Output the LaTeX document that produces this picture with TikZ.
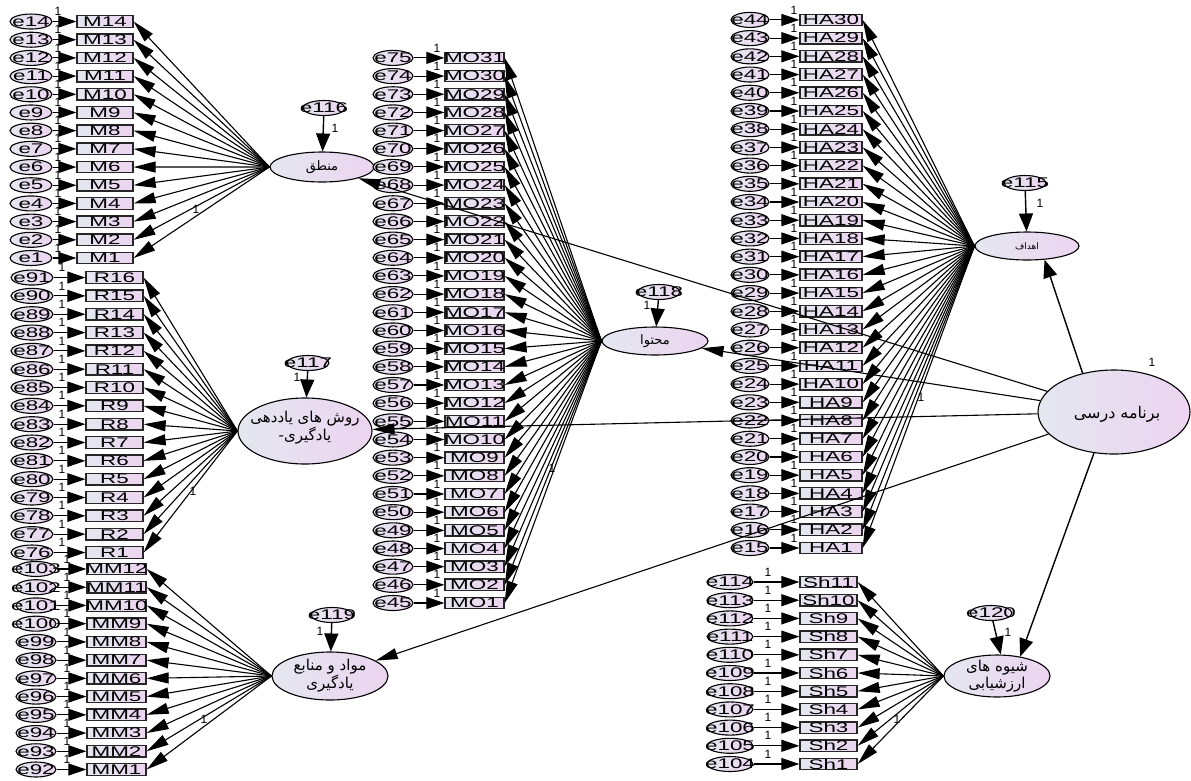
\documentclass[tikz,border=0pt]{standalone}
\usepackage{fontspec}
\setmainfont{Liberation Sans}
\newfontfamily\boxfont[FakeStretch=1.6]{Liberation Sans}
\newfontfamily\fa[Script=Arabic]{DejaVu Sans}
\TeXXeTstate=1
\usetikzlibrary{arrows.meta,shapes.geometric}
\definecolor{cL}{RGB}{228,231,240}
\definecolor{cR}{RGB}{236,212,240}
\begin{document}
\begin{tikzpicture}[x=1pt,y=-1pt,
  ind/.style={rectangle,draw=black!85,line width=1.3pt,inner ysep=0pt,inner xsep=-4pt,minimum height=11.5pt,left color=cL,right color=cR,font=\boxfont\fontsize{14}{14}\selectfont},
  err/.style={ellipse,draw,line width=1.1pt,inner ysep=-1pt,inner xsep=-14pt,minimum width=42pt,minimum height=15pt,left color=cL,right color=cR,font=\boxfont\fontsize{14}{14}\selectfont},
  lat/.style={ellipse,draw,line width=1.1pt,inner sep=0pt,left color=cL,right color=cR},
  lt/.style={font=\fa\fontsize{14}{16}\selectfont,align=center,inner sep=0pt},
  arr/.style={-{Triangle[length=22pt,width=11pt]},line width=1.1pt},
  earr/.style={-{Triangle[length=18pt,width=12pt]},line width=1.1pt},
  larr/.style={-{Triangle[length=18pt,width=14pt]},line width=1.4pt},
  one/.style={font=\fontsize{12}{12}\selectfont,inner sep=0pt}]
\useasboundingbox (0,0) rectangle (1191,780);

% ---------- latent variables ----------
\node[lat,minimum width=104pt,minimum height=30pt] (mt) at (322,167) {};
\node[lt,font=\fa\fontsize{13}{15}\selectfont] (mtT) at (mt) {\beginR منطق\endR};
\node[lat,minimum width=134pt,minimum height=66pt] (rs) at (305,431) {};
\node[lt,font=\fa\fontsize{15}{18}\selectfont] (rsT) at (305,428) {\beginR روش های یاددهی\endR\\\beginR یادگیری-\endR};
\node[lat,minimum width=116pt,minimum height=48pt] (mv) at (330,676) {};
\node[lt,font=\fa\fontsize{15}{17}\selectfont] (mvT) at (330,676) {\beginR مواد و منابع\endR\\\beginR یادگیری\endR};
\node[lat,minimum width=106pt,minimum height=28pt] (mh) at (655,341) {};
\node[lt,font=\fa\fontsize{13}{15}\selectfont] (mhT) at (mh) {\beginR محتوا\endR};
\node[lat,minimum width=104pt,minimum height=28pt] (hd) at (1027,246) {};
\node[lt,font=\fa\fontsize{9}{11}\selectfont] (hdT) at (hd) {\beginR اهداف\endR};
\node[lat,minimum width=106pt,minimum height=42pt] (sh) at (997,676) {};
\node[lt,font=\fa\fontsize{15}{17}\selectfont] (shT) at (997,676) {\beginR شیوه های\endR\\\beginR ارزشیابی\endR};
\node[lat,minimum width=152pt,minimum height=84pt] (bd) at (1114,412) {};
\node[lt,font=\fa\fontsize{16}{18}\selectfont] (bdT) at (1117,414) {\beginR برنامه درسی\endR};
\node[one] (obd) at (1152,362) {1};

% ---------- latent errors ----------
\node[err] (e116) at (324,108) {e116};
\node[one] (o116) at (335,128) {1};
\node[err] (e117) at (308,363) {e117};
\node[one] (o117) at (297,377) {1};
\node[err] (e118) at (659,292) {e118};
\node[one] (o118) at (647,305) {1};
\node[err] (e115) at (1025,183) {e115};
\node[one] (o115) at (1040,203) {1};
\node[err] (e119) at (332,615) {e119};
\node[one] (o119) at (320,631) {1};
\node[err] (e120) at (991,613) {e120};
\node[one] (o120) at (1008,632) {1};

% ---------- M group ----------
\foreach \i in {1,...,14}{
  \pgfmathsetmacro\yy{258-(\i-1)*18.19}
  \node[ind,minimum width=56pt] (M\i) at (105,\yy) {M\i};
  \node[err] (e\i) at (31,\yy) {e\i};
  \node[one] (o\i) at (58,\yy-10) {1};
  \draw[earr] (e\i) -- (M\i.west);
  \draw[arr] (mt.west) -- (M\i.east);
}
\node[one] (lM) at (196,209) {1};

% ---------- R group ----------
\foreach \i in {1,...,16}{
  \pgfmathsetmacro\yy{552.5-(\i-1)*18.33}
  \pgfmathtruncatemacro\ee{75+\i}
  \node[ind,minimum width=57pt] (R\i) at (114.5,\yy) {R\i};
  \node[err] (e\ee) at (32,\yy) {e\ee};
  \node[one] (o\ee) at (62,\yy-10) {1};
  \draw[earr] (e\ee) -- (R\i.west);
  \draw[arr] (rs.west) -- (R\i.east);
}
\node[one] (lR) at (193,491) {1};

% ---------- MM group ----------
\foreach \i in {1,...,12}{
  \pgfmathsetmacro\yy{769.5-(\i-1)*18.23}
  \pgfmathtruncatemacro\ee{91+\i}
  \node[ind,minimum width=59pt] (MM\i) at (116.5,\yy) {MM\i};
  \node[err,minimum width=40pt] (e\ee) at (36,\yy) {e\ee};
  \node[one] (o\ee) at (67,\yy-10) {1};
  \draw[earr] (e\ee) -- (MM\i.west);
  \draw[arr] (mv.west) -- (MM\i.east);
}
\node[one] (lMM) at (204,719) {1};

% ---------- MO group ----------
\foreach \i in {1,...,31}{
  \pgfmathsetmacro\yy{603-(\i-1)*18.17}
  \pgfmathtruncatemacro\ee{44+\i}
  \node[ind,minimum width=59pt] (MO\i) at (474.5,\yy) {MO\i};
  \node[err,minimum width=40pt] (e\ee) at (393,\yy) {e\ee};
  \node[one] (o\ee) at (437,\yy-10) {1};
  \draw[earr] (e\ee) -- (MO\i.west);
  \draw[arr] (mh.west) -- (MO\i.east);
}
\node[one] (lMO) at (552,468) {1};

% ---------- HA group ----------
\foreach \i in {1,...,30}{
  \pgfmathsetmacro\yy{548-(\i-1)*18.21}
  \pgfmathtruncatemacro\ee{14+\i}
  \node[ind,minimum width=62pt] (HA\i) at (831,\yy) {HA\i};
  \node[err,minimum width=38pt] (e\ee) at (750,\yy) {e\ee};
  \node[one] (o\ee) at (794,\yy-10) {1};
  \draw[earr] (e\ee) -- (HA\i.west);
  \draw[arr] (hd.west) -- (HA\i.east);
}
\node[one] (lHA) at (921,397) {1};

% ---------- Sh group ----------
\foreach \i in {1,...,11}{
  \pgfmathsetmacro\yy{764-(\i-1)*18.2}
  \pgfmathtruncatemacro\ee{103+\i}
  \node[ind,minimum width=57pt] (Sh\i) at (828.5,\yy) {Sh\i};
  \node[err,minimum width=46pt] (e\ee) at (730,\yy) {e\ee};
  \node[one] (o\ee) at (768,\yy-10) {1};
  \draw[earr] (e\ee) -- (Sh\i.west);
  \draw[arr] (sh.west) -- (Sh\i.east);
}
\node[one] (lSh) at (897,719) {1};

% ---------- latent error arrows ----------
\draw[larr] (e116) -- (mt);
\draw[larr] (e117) -- (rs);
\draw[larr] (e118) -- (mh);
\draw[larr] (e115) -- (hd);
\draw[larr] (e119) -- (mv);
\draw[larr] (e120) -- (sh.80);

% ---------- second-order paths ----------
\draw[larr] (bd.129) -- (hd.322);
\draw[larr] (bd.244) -- (sh.40);
\draw[arr] (bd) -- (mh);
\draw[arr] (bd) -- (rs);
\draw[arr] (bd) -- (mv);
\draw[arr] (bd) -- (mt);
\end{tikzpicture}
\end{document}
